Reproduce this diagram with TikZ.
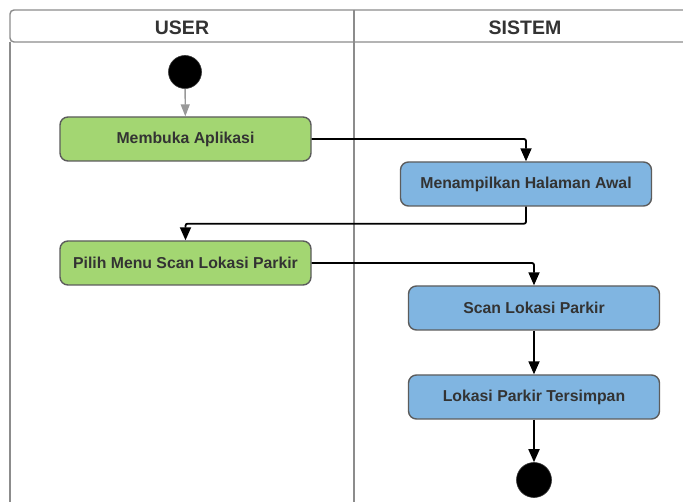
\documentclass[tikz,border=0pt]{standalone}
\usepackage{fontspec}
\setmainfont{Liberation Sans}
\usetikzlibrary{arrows.meta}
\definecolor{framegray}{HTML}{8C8C8C}
\definecolor{boxedge}{HTML}{5C5C5C}
\definecolor{txt}{HTML}{333333}
\definecolor{usergreen}{HTML}{A3D672}
\definecolor{sysblue}{HTML}{80B5E1}
\begin{document}
\begin{tikzpicture}[x=1pt,y=-1pt,
  frame/.style={draw=framegray, line width=1.4pt},
  lanetitle/.style={font=\fontsize{19.5}{22}\selectfont\bfseries, text=txt},
  act/.style={draw=boxedge, line width=1.4pt, rounded corners=8pt,
    minimum width=251pt, minimum height=44pt, inner sep=0pt,
    font=\fontsize{15.8}{18}\selectfont\bfseries, text=txt},
  userbox/.style={act, fill=usergreen},
  sysbox/.style={act, fill=sysblue},
  dot/.style={circle, fill=black, draw=black!80, line width=0.6pt, inner sep=0pt},
  flow/.style={draw=black, line width=1.8pt, rounded corners=2pt,
    -{Triangle[length=13pt,width=11pt]}},
  startflow/.style={draw=gray!80, line width=1.4pt,
    -{Triangle[length=12pt,width=9pt]}}]

\useasboundingbox (0,0) rectangle (683,502);
\clip (0,0) rectangle (683,502);
\fill[white] (0,0) rectangle (683,502);

% swimlane frame: header row, left edge and lane divider
\draw[frame, rounded corners=4pt] (10,42) -- (10,10) -- (700,10) -- (700,42) -- cycle;
\draw[frame] (10,42) -- (10,510);
\draw[frame] (354,10) -- (354,510);
\node[lanetitle] (laneuser) at (182,28) {USER};
\node[lanetitle] (lanesys) at (525,28) {SISTEM};

% initial and final states
\node[dot, minimum size=33pt] (start) at (185,72) {};
\node[dot, minimum size=35pt] (finish) at (534,480) {};

% activities
\node[userbox] (open) at (185.5,139) {Membuka Aplikasi};
\node[sysbox] (home) at (526,184) {Menampilkan Halaman Awal};
\node[userbox] (menu) at (185.5,263) {Pilih Menu Scan Lokasi Parkir};
\node[sysbox] (scan) at (534,308) {Scan Lokasi Parkir};
\node[sysbox] (saved) at (534,397) {Lokasi Parkir Tersimpan};

% control flow
\draw[startflow] (start) -- (open);
\draw[flow] (open.east) -| (home.north);
\draw[flow] (home.south) -- ++(0,17) -| (menu.north);
\draw[flow] (menu.east) -| (scan.north);
\draw[flow] (scan) -- (saved);
\draw[flow] (saved) -- (finish);
\end{tikzpicture}
\end{document}
